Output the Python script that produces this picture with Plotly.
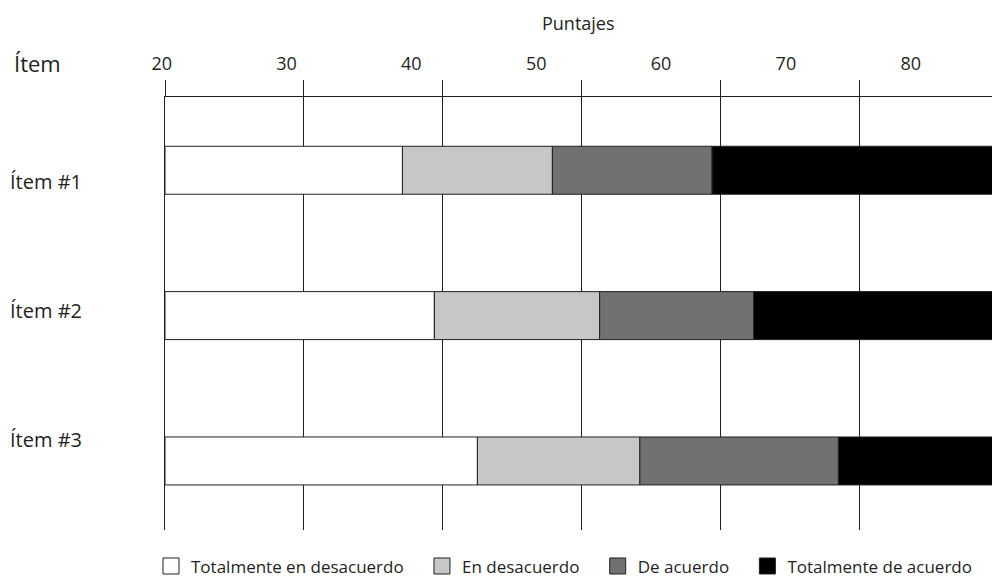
import numpy as np
import plotly.graph_objects as go

# ---- data ----
categories = ["Ítem #1", "Ítem #2", "Ítem #3"]
series_names = ["Totalmente en desacuerdo", "En desacuerdo", "De acuerdo", "Totalmente de acuerdo"]
totalmente_en_desacuerdo = [17.1, 19.4, 22.5]
en_desacuerdo = [10.8, 11.9, 11.7]
de_acuerdo = [11.5, 11.1, 14.3]
totalmente_de_acuerdo = [40.5, 37.6, 31.5]
x_start = 20
tick_values = [20, 30, 40, 50, 60, 70, 80]
tick_labels = ["20", "30", "40", "50", "60", "70", "80"]

series_values = [totalmente_en_desacuerdo, en_desacuerdo, de_acuerdo, totalmente_de_acuerdo]
colors = ["#ffffff", "#c6c7c9", "#707173", "#000000"]

FONT = "Open Sans"
INK = "#231f20"
NBSP = "\u00a0"

widths = np.array(series_values, dtype=float)
bases = x_start + np.vstack([np.zeros(len(categories)), np.cumsum(widths, axis=0)[:-1]])

fig = go.Figure()
for name, w, b, c in zip(series_names, widths, bases, colors):
    fig.add_trace(go.Bar(
        y=categories, x=w, base=b, name=name, orientation="h",
        width=0.33, showlegend=False,
        marker=dict(color=c, line=dict(color=INK, width=1)),
        xaxis="x", yaxis="y",
    ))

# legend entries (square swatches)
for name, c in zip(series_names, colors):
    fig.add_trace(go.Scatter(
        x=[None], y=[None], mode="markers", name=name + NBSP * 3,
        marker=dict(symbol="square", size=16, color=c, line=dict(color=INK, width=1)),
        xaxis="x", yaxis="y", hoverinfo="skip",
    ))

# helper traces so that the label axes are drawn
fig.add_trace(go.Scatter(x=[None], y=[None], xaxis="x2", yaxis="y",
                         showlegend=False, hoverinfo="skip"))
fig.add_trace(go.Scatter(x=[None], y=[None], xaxis="x", yaxis="y2",
                         showlegend=False, hoverinfo="skip"))

W, H = 992, 578
ML, MR, MT, MB = 150, 0, 97, 48
plot_w = W - ML - MR
plot_h = H - MT - MB

fig.update_layout(
    width=W, height=H,
    margin=dict(l=ML, r=MR, t=MT, b=MB, pad=0, autoexpand=False),
    paper_bgcolor="white",
    plot_bgcolor="rgba(0,0,0,0)",
    barmode="overlay",
    font=dict(family=FONT, color=INK),
    xaxis=dict(
        domain=[15 / plot_w, 1], anchor="y", side="top",
        range=[20, 79.56], tickmode="array", tickvals=tick_values,
        showticklabels=False, ticks="outside", ticklen=16, tickwidth=1, tickcolor=INK,
        showgrid=True, gridcolor=INK, gridwidth=1,
        showline=True, linecolor=INK, linewidth=1, zeroline=False,
    ),
    xaxis2=dict(
        domain=[0, 1], anchor="y", side="top",
        range=[19.063, 86.51], tickmode="array", tickvals=tick_values, ticktext=tick_labels,
        ticks="", showgrid=False, showline=False, zeroline=False,
        tickfont=dict(family=FONT, size=18, color=INK), ticklabelstandoff=22,
    ),
    yaxis=dict(
        domain=[0, 1], anchor="x", type="category", categoryorder="array",
        categoryarray=categories, range=[2.475, -0.504],
        showticklabels=False, ticks="", showgrid=False, zeroline=False,
        showline=True, linecolor=INK, linewidth=1,
    ),
    yaxis2=dict(
        overlaying="y", anchor="x", side="left", type="linear",
        range=[2.697, -0.656], tickmode="array",
        tickvals=list(range(len(categories))), ticktext=categories,
        ticks="", showgrid=False, zeroline=False, showline=False,
        tickfont=dict(family=FONT, size=20, color=INK), ticklabelstandoff=82,
    ),
    legend=dict(
        orientation="h", x=1 / plot_w, xanchor="left", xref="paper",
        y=-0.0426, yanchor="top", yref="paper",
        font=dict(family=FONT, size=17, color=INK),
        bgcolor="rgba(0,0,0,0)", borderwidth=0,
        traceorder="normal", itemsizing="trace",
    ),
    showlegend=True,
    annotations=[
        dict(text="Puntajes", xref="x domain", x=0.5, yref="paper",
             y=1 + (MT - 22.7) / plot_h, xanchor="center", yanchor="middle",
             showarrow=False, font=dict(family=FONT, size=18, color=INK)),
        dict(text="Ítem", xref="paper", x=(11.7 - ML) / plot_w, yref="paper",
             y=1 + (MT - 63) / plot_h, xanchor="left", yanchor="middle",
             showarrow=False, font=dict(family=FONT, size=22, color=INK)),
    ],
)

# place the figure at the window's top-left corner (no default page margin)
fig.write_html("out.html", config={"displayModeBar": False},
               post_script="document.body.style.margin='0';")
